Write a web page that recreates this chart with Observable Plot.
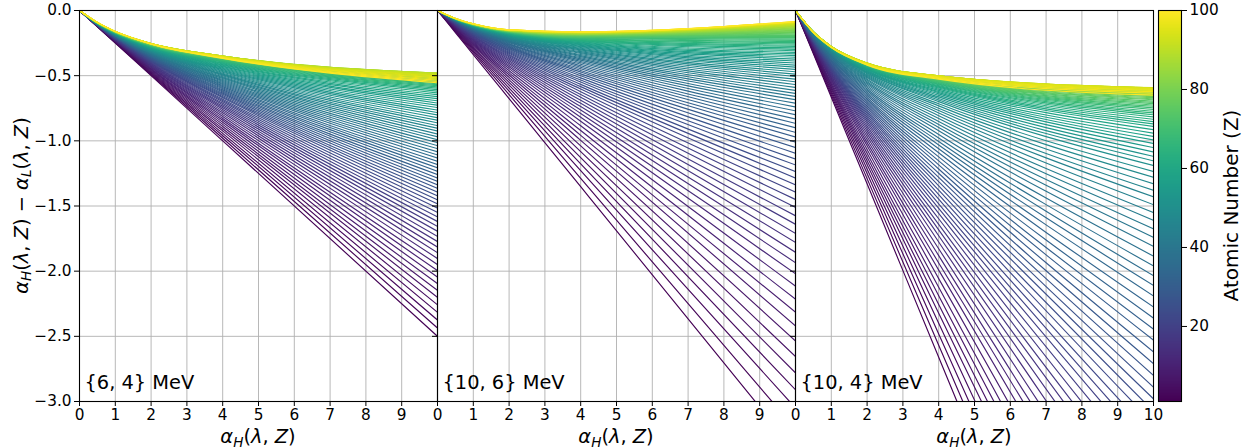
<!DOCTYPE html>
<html><head><meta charset="utf-8">
<script src="https://cdn.jsdelivr.net/npm/d3@7"></script>
<script src="https://cdn.jsdelivr.net/npm/@observablehq/plot@0.6"></script>
<style>
body{margin:0;background:#fff;}
#chart{position:relative;width:1251px;height:448px;font-family:"DejaVu Sans",sans-serif;}
</style></head><body><div id="chart"></div>
<script>
// ---- categories ----
const atomicNumbers = [1,2,3,4,5,6,7,8,9,10,11,12,13,14,15,16,17,18,19,20,21,22,23,24,25,26,27,28,29,30,31,32,33,34,35,36,37,38,39,40,41,42,43,44,45,46,47,48,49,50,51,52,53,54,55,56,57,58,59,60,61,62,63,64,65,66,67,68,69,70,71,72,73,74,75,76,77,78,79,80,81,82,83,84,85,86,87,88,89,90,91,92,93,94,95,96,97,98,99,100];
// alpha_H positions at which each curve was read
const knotsX = [0, 0.5, 1, 2, 4, 10];
const panelLabels = ["{6, 4} MeV", "{10, 6} MeV", "{10, 4} MeV"];
const xTicks = [0,1,2,3,4,5,6,7,8,9,10];
const yTicks = [0,-0.5,-1,-1.5,-2,-2.5,-3];
const cbTicks = [20,40,60,80,100];

// ---- panel 1: {6,4} MeV, alpha_H - alpha_L at alpha_H = 0.5, 1, 2, 4, 10 for Z = 1..100 ----
const p1At05 = [-0.125,-0.124,-0.124,-0.123,-0.122,-0.122,-0.121,-0.120,-0.120,-0.119,
-0.119,-0.118,-0.117,-0.117,-0.116,-0.116,-0.115,-0.115,-0.114,-0.114,
-0.113,-0.113,-0.113,-0.112,-0.112,-0.111,-0.111,-0.110,-0.110,-0.110,
-0.109,-0.109,-0.108,-0.108,-0.108,-0.107,-0.107,-0.106,-0.106,-0.106,
-0.105,-0.105,-0.105,-0.104,-0.104,-0.104,-0.103,-0.103,-0.103,-0.102,
-0.102,-0.102,-0.101,-0.101,-0.101,-0.100,-0.100,-0.100,-0.099,-0.099,
-0.099,-0.098,-0.098,-0.098,-0.098,-0.097,-0.097,-0.097,-0.097,-0.096,
-0.096,-0.096,-0.096,-0.096,-0.095,-0.095,-0.095,-0.095,-0.095,-0.094,
-0.094,-0.094,-0.094,-0.094,-0.093,-0.093,-0.093,-0.093,-0.093,-0.093,
-0.093,-0.092,-0.092,-0.092,-0.092,-0.092,-0.092,-0.092,-0.092,-0.092];
const p1At1 = [-0.250,-0.248,-0.246,-0.243,-0.241,-0.239,-0.237,-0.235,-0.233,-0.231,
-0.230,-0.228,-0.226,-0.225,-0.223,-0.222,-0.220,-0.219,-0.217,-0.216,
-0.214,-0.213,-0.212,-0.210,-0.209,-0.208,-0.207,-0.206,-0.205,-0.204,
-0.202,-0.201,-0.200,-0.199,-0.198,-0.197,-0.196,-0.195,-0.194,-0.193,
-0.192,-0.191,-0.190,-0.189,-0.188,-0.187,-0.186,-0.185,-0.184,-0.183,
-0.182,-0.182,-0.181,-0.180,-0.179,-0.178,-0.177,-0.177,-0.176,-0.175,
-0.174,-0.174,-0.173,-0.172,-0.172,-0.171,-0.171,-0.170,-0.170,-0.169,
-0.169,-0.168,-0.168,-0.167,-0.167,-0.166,-0.166,-0.166,-0.165,-0.165,
-0.164,-0.164,-0.164,-0.163,-0.163,-0.163,-0.162,-0.162,-0.162,-0.162,
-0.161,-0.161,-0.161,-0.161,-0.161,-0.161,-0.161,-0.161,-0.161,-0.161];
const p1At2 = [-0.500,-0.493,-0.486,-0.480,-0.473,-0.467,-0.461,-0.455,-0.449,-0.444,
-0.438,-0.433,-0.428,-0.423,-0.418,-0.414,-0.409,-0.405,-0.400,-0.396,
-0.392,-0.388,-0.385,-0.381,-0.377,-0.374,-0.371,-0.367,-0.364,-0.361,
-0.358,-0.355,-0.352,-0.349,-0.346,-0.343,-0.340,-0.337,-0.334,-0.331,
-0.328,-0.326,-0.323,-0.320,-0.317,-0.315,-0.312,-0.310,-0.307,-0.305,
-0.302,-0.300,-0.298,-0.295,-0.293,-0.291,-0.289,-0.286,-0.284,-0.282,
-0.281,-0.279,-0.277,-0.276,-0.274,-0.273,-0.272,-0.271,-0.269,-0.268,
-0.267,-0.266,-0.265,-0.264,-0.264,-0.263,-0.262,-0.261,-0.260,-0.259,
-0.259,-0.258,-0.257,-0.256,-0.256,-0.255,-0.255,-0.254,-0.254,-0.254,
-0.254,-0.254,-0.254,-0.254,-0.255,-0.255,-0.256,-0.256,-0.257,-0.258];
const p1At4 = [-1.000,-0.980,-0.961,-0.943,-0.924,-0.907,-0.890,-0.874,-0.858,-0.842,
-0.828,-0.813,-0.799,-0.785,-0.772,-0.759,-0.747,-0.735,-0.723,-0.712,
-0.701,-0.691,-0.681,-0.670,-0.661,-0.652,-0.643,-0.634,-0.625,-0.617,
-0.609,-0.600,-0.592,-0.584,-0.576,-0.568,-0.560,-0.552,-0.545,-0.537,
-0.530,-0.522,-0.515,-0.508,-0.501,-0.494,-0.488,-0.481,-0.474,-0.468,
-0.461,-0.455,-0.449,-0.443,-0.437,-0.431,-0.426,-0.420,-0.415,-0.410,
-0.405,-0.401,-0.397,-0.393,-0.390,-0.387,-0.384,-0.381,-0.379,-0.377,
-0.374,-0.372,-0.370,-0.368,-0.366,-0.364,-0.362,-0.361,-0.359,-0.358,
-0.356,-0.355,-0.353,-0.352,-0.351,-0.350,-0.349,-0.349,-0.349,-0.349,
-0.350,-0.351,-0.352,-0.353,-0.355,-0.357,-0.359,-0.362,-0.365,-0.367];
const p1At10 = [-2.500,-2.436,-2.375,-2.316,-2.258,-2.202,-2.148,-2.096,-2.045,-1.996,
-1.949,-1.903,-1.858,-1.815,-1.773,-1.733,-1.694,-1.656,-1.619,-1.584,
-1.549,-1.516,-1.484,-1.452,-1.422,-1.393,-1.365,-1.337,-1.311,-1.285,
-1.259,-1.233,-1.207,-1.182,-1.157,-1.132,-1.108,-1.084,-1.060,-1.037,
-1.014,-0.991,-0.969,-0.947,-0.925,-0.904,-0.883,-0.862,-0.842,-0.822,
-0.802,-0.783,-0.764,-0.745,-0.727,-0.710,-0.693,-0.677,-0.661,-0.646,
-0.632,-0.619,-0.607,-0.596,-0.586,-0.577,-0.569,-0.562,-0.555,-0.549,
-0.543,-0.537,-0.531,-0.526,-0.521,-0.516,-0.511,-0.507,-0.503,-0.499,
-0.495,-0.492,-0.489,-0.486,-0.484,-0.482,-0.481,-0.480,-0.481,-0.483,
-0.487,-0.491,-0.496,-0.502,-0.509,-0.517,-0.526,-0.535,-0.545,-0.555];

// ---- panel 2: {10,6} MeV ----
const p2At05 = [-0.169,-0.163,-0.156,-0.151,-0.146,-0.142,-0.138,-0.133,-0.130,-0.126,
-0.123,-0.119,-0.116,-0.114,-0.111,-0.109,-0.107,-0.105,-0.102,-0.100,
-0.099,-0.097,-0.095,-0.094,-0.092,-0.091,-0.089,-0.088,-0.087,-0.085,
-0.084,-0.083,-0.082,-0.081,-0.080,-0.080,-0.079,-0.078,-0.077,-0.076,
-0.076,-0.075,-0.074,-0.074,-0.073,-0.073,-0.072,-0.072,-0.071,-0.071,
-0.070,-0.070,-0.069,-0.069,-0.068,-0.068,-0.068,-0.067,-0.067,-0.067,
-0.066,-0.066,-0.066,-0.066,-0.065,-0.065,-0.065,-0.065,-0.064,-0.064,
-0.064,-0.064,-0.064,-0.064,-0.064,-0.063,-0.063,-0.063,-0.063,-0.063,
-0.063,-0.063,-0.063,-0.063,-0.062,-0.062,-0.062,-0.062,-0.062,-0.062,
-0.062,-0.062,-0.062,-0.062,-0.062,-0.062,-0.062,-0.062,-0.062,-0.062];
const p2At1 = [-0.338,-0.324,-0.311,-0.300,-0.290,-0.281,-0.271,-0.263,-0.255,-0.247,
-0.240,-0.232,-0.226,-0.220,-0.215,-0.210,-0.205,-0.200,-0.196,-0.191,
-0.187,-0.184,-0.180,-0.176,-0.173,-0.170,-0.167,-0.164,-0.161,-0.158,
-0.156,-0.154,-0.151,-0.149,-0.147,-0.145,-0.143,-0.141,-0.139,-0.138,
-0.136,-0.135,-0.133,-0.132,-0.131,-0.129,-0.128,-0.127,-0.126,-0.125,
-0.124,-0.123,-0.122,-0.121,-0.120,-0.119,-0.118,-0.117,-0.117,-0.116,
-0.115,-0.114,-0.114,-0.113,-0.113,-0.112,-0.112,-0.111,-0.111,-0.110,
-0.110,-0.109,-0.109,-0.109,-0.108,-0.108,-0.108,-0.107,-0.107,-0.107,
-0.107,-0.106,-0.106,-0.106,-0.106,-0.105,-0.105,-0.105,-0.105,-0.105,
-0.104,-0.104,-0.104,-0.104,-0.104,-0.103,-0.103,-0.103,-0.103,-0.104];
const p2At2 = [-0.676,-0.646,-0.619,-0.595,-0.573,-0.552,-0.532,-0.513,-0.495,-0.479,
-0.462,-0.446,-0.432,-0.419,-0.407,-0.396,-0.385,-0.374,-0.364,-0.354,
-0.345,-0.337,-0.328,-0.320,-0.312,-0.305,-0.298,-0.292,-0.285,-0.279,
-0.274,-0.268,-0.263,-0.258,-0.253,-0.248,-0.244,-0.239,-0.235,-0.232,
-0.228,-0.225,-0.221,-0.218,-0.215,-0.212,-0.209,-0.206,-0.203,-0.201,
-0.198,-0.196,-0.193,-0.191,-0.189,-0.187,-0.185,-0.183,-0.181,-0.180,
-0.178,-0.176,-0.175,-0.173,-0.172,-0.171,-0.169,-0.168,-0.167,-0.166,
-0.165,-0.164,-0.163,-0.162,-0.161,-0.161,-0.160,-0.159,-0.158,-0.158,
-0.157,-0.156,-0.156,-0.155,-0.155,-0.154,-0.154,-0.153,-0.152,-0.152,
-0.151,-0.151,-0.150,-0.150,-0.150,-0.149,-0.149,-0.149,-0.149,-0.149];
const p2At4 = [-1.352,-1.288,-1.229,-1.177,-1.129,-1.083,-1.039,-0.996,-0.958,-0.921,
-0.884,-0.850,-0.819,-0.790,-0.763,-0.737,-0.712,-0.689,-0.665,-0.644,
-0.623,-0.603,-0.584,-0.567,-0.549,-0.533,-0.517,-0.501,-0.486,-0.472,
-0.460,-0.447,-0.435,-0.424,-0.412,-0.401,-0.391,-0.381,-0.371,-0.363,
-0.354,-0.346,-0.338,-0.330,-0.323,-0.316,-0.309,-0.302,-0.296,-0.290,
-0.284,-0.278,-0.273,-0.268,-0.262,-0.257,-0.253,-0.248,-0.244,-0.240,
-0.236,-0.233,-0.229,-0.225,-0.222,-0.219,-0.216,-0.213,-0.210,-0.207,
-0.205,-0.202,-0.200,-0.198,-0.196,-0.194,-0.192,-0.190,-0.188,-0.187,
-0.185,-0.183,-0.182,-0.181,-0.179,-0.178,-0.177,-0.175,-0.174,-0.173,
-0.171,-0.170,-0.169,-0.168,-0.167,-0.166,-0.165,-0.165,-0.164,-0.164];
const p2At10 = [-3.380,-3.210,-3.050,-2.910,-2.780,-2.655,-2.535,-2.420,-2.315,-2.215,
-2.115,-2.020,-1.935,-1.855,-1.780,-1.710,-1.640,-1.575,-1.510,-1.450,
-1.393,-1.338,-1.285,-1.235,-1.185,-1.140,-1.095,-1.052,-1.010,-0.970,
-0.935,-0.900,-0.866,-0.833,-0.800,-0.770,-0.740,-0.712,-0.685,-0.660,
-0.636,-0.613,-0.590,-0.568,-0.547,-0.527,-0.507,-0.488,-0.470,-0.452,
-0.435,-0.419,-0.403,-0.388,-0.373,-0.359,-0.346,-0.333,-0.321,-0.309,
-0.298,-0.287,-0.276,-0.266,-0.256,-0.247,-0.238,-0.229,-0.221,-0.213,
-0.206,-0.199,-0.192,-0.186,-0.180,-0.174,-0.168,-0.162,-0.157,-0.152,
-0.147,-0.142,-0.138,-0.134,-0.130,-0.126,-0.122,-0.118,-0.114,-0.110,
-0.106,-0.102,-0.099,-0.096,-0.093,-0.090,-0.088,-0.086,-0.085,-0.085];

// ---- panel 3: {10,4} MeV ----
const p3At05 = [-0.333,-0.325,-0.317,-0.310,-0.304,-0.299,-0.293,-0.288,-0.283,-0.277,
-0.273,-0.268,-0.264,-0.260,-0.256,-0.253,-0.250,-0.247,-0.244,-0.241,
-0.238,-0.236,-0.233,-0.230,-0.228,-0.225,-0.223,-0.220,-0.218,-0.215,
-0.213,-0.210,-0.208,-0.205,-0.203,-0.200,-0.198,-0.196,-0.193,-0.191,
-0.189,-0.187,-0.185,-0.184,-0.182,-0.180,-0.179,-0.177,-0.176,-0.175,
-0.174,-0.173,-0.172,-0.171,-0.171,-0.170,-0.169,-0.169,-0.168,-0.168,
-0.167,-0.167,-0.167,-0.166,-0.166,-0.166,-0.166,-0.166,-0.166,-0.166,
-0.166,-0.165,-0.165,-0.165,-0.165,-0.165,-0.165,-0.165,-0.165,-0.165,
-0.165,-0.165,-0.165,-0.165,-0.165,-0.165,-0.165,-0.165,-0.165,-0.166,
-0.166,-0.166,-0.166,-0.166,-0.167,-0.167,-0.168,-0.169,-0.169,-0.170];
const p3At1 = [-0.665,-0.648,-0.631,-0.615,-0.601,-0.588,-0.576,-0.564,-0.552,-0.539,
-0.529,-0.519,-0.509,-0.500,-0.491,-0.484,-0.476,-0.469,-0.461,-0.454,
-0.448,-0.442,-0.436,-0.430,-0.424,-0.418,-0.413,-0.407,-0.401,-0.395,
-0.389,-0.383,-0.378,-0.372,-0.366,-0.361,-0.356,-0.351,-0.345,-0.340,
-0.336,-0.331,-0.327,-0.323,-0.319,-0.316,-0.312,-0.309,-0.306,-0.303,
-0.301,-0.299,-0.297,-0.295,-0.293,-0.292,-0.290,-0.289,-0.287,-0.286,
-0.285,-0.284,-0.283,-0.283,-0.282,-0.281,-0.281,-0.280,-0.280,-0.279,
-0.279,-0.279,-0.279,-0.278,-0.278,-0.278,-0.278,-0.277,-0.277,-0.277,
-0.277,-0.277,-0.277,-0.277,-0.276,-0.276,-0.276,-0.276,-0.276,-0.277,
-0.277,-0.277,-0.277,-0.278,-0.279,-0.280,-0.281,-0.282,-0.284,-0.285];
const p3At2 = [-1.330,-1.290,-1.251,-1.216,-1.182,-1.152,-1.124,-1.096,-1.066,-1.038,
-1.014,-0.990,-0.967,-0.945,-0.924,-0.905,-0.887,-0.869,-0.852,-0.835,
-0.820,-0.805,-0.790,-0.776,-0.762,-0.748,-0.734,-0.720,-0.706,-0.692,
-0.679,-0.666,-0.652,-0.639,-0.626,-0.614,-0.602,-0.590,-0.578,-0.567,
-0.556,-0.546,-0.536,-0.527,-0.517,-0.510,-0.502,-0.494,-0.487,-0.480,
-0.475,-0.469,-0.464,-0.460,-0.455,-0.451,-0.448,-0.444,-0.440,-0.437,
-0.434,-0.432,-0.430,-0.427,-0.425,-0.423,-0.422,-0.420,-0.419,-0.417,
-0.416,-0.415,-0.414,-0.413,-0.412,-0.411,-0.410,-0.410,-0.409,-0.408,
-0.407,-0.407,-0.406,-0.406,-0.405,-0.405,-0.404,-0.404,-0.404,-0.404,
-0.404,-0.405,-0.405,-0.406,-0.407,-0.409,-0.411,-0.413,-0.416,-0.419];
const p3At4 = [-2.660,-2.569,-2.482,-2.400,-2.323,-2.255,-2.188,-2.124,-2.057,-1.992,
-1.937,-1.881,-1.828,-1.776,-1.728,-1.683,-1.641,-1.598,-1.557,-1.518,
-1.483,-1.448,-1.412,-1.379,-1.345,-1.313,-1.281,-1.249,-1.216,-1.184,
-1.154,-1.123,-1.092,-1.061,-1.032,-1.005,-0.978,-0.951,-0.923,-0.898,
-0.874,-0.851,-0.829,-0.807,-0.786,-0.768,-0.750,-0.732,-0.716,-0.699,
-0.687,-0.675,-0.663,-0.651,-0.640,-0.630,-0.622,-0.613,-0.603,-0.595,
-0.588,-0.582,-0.576,-0.570,-0.565,-0.560,-0.556,-0.552,-0.548,-0.544,
-0.541,-0.538,-0.534,-0.531,-0.528,-0.526,-0.523,-0.521,-0.518,-0.516,
-0.514,-0.512,-0.510,-0.509,-0.507,-0.505,-0.504,-0.502,-0.502,-0.501,
-0.501,-0.501,-0.502,-0.503,-0.505,-0.508,-0.512,-0.516,-0.521,-0.527];
const p3At10 = [-6.650,-6.400,-6.160,-5.935,-5.720,-5.530,-5.345,-5.165,-4.980,-4.800,
-4.645,-4.490,-4.340,-4.195,-4.060,-3.935,-3.815,-3.695,-3.580,-3.470,
-3.370,-3.270,-3.170,-3.075,-2.980,-2.890,-2.800,-2.710,-2.620,-2.530,
-2.445,-2.360,-2.275,-2.190,-2.110,-2.035,-1.960,-1.885,-1.810,-1.740,
-1.675,-1.610,-1.550,-1.490,-1.430,-1.380,-1.330,-1.280,-1.235,-1.190,
-1.154,-1.119,-1.085,-1.052,-1.020,-0.993,-0.967,-0.941,-0.915,-0.890,
-0.871,-0.853,-0.835,-0.817,-0.800,-0.786,-0.773,-0.760,-0.747,-0.735,
-0.725,-0.715,-0.705,-0.695,-0.685,-0.677,-0.669,-0.661,-0.653,-0.645,
-0.639,-0.633,-0.627,-0.621,-0.615,-0.610,-0.605,-0.600,-0.597,-0.595,
-0.593,-0.592,-0.593,-0.595,-0.599,-0.605,-0.613,-0.623,-0.635,-0.650];

const panels = [
  {label: panelLabels[0], cols: [p1At05, p1At1, p1At2, p1At4, p1At10]},
  {label: panelLabels[1], cols: [p2At05, p2At1, p2At2, p2At4, p2At10]},
  {label: panelLabels[2], cols: [p3At05, p3At1, p3At2, p3At4, p3At10]}
];

const chart = document.getElementById("chart");
const FONT = "DejaVu Sans";
const panelLeft = [79, 437, 795];
const innerW = 358;
const fmtY = d => d === 0 ? "0.0" : "\u2212" + Math.abs(d).toFixed(1);

panels.forEach((p, idx) => {
  const rows = [];
  atomicNumbers.forEach((z, i) => {
    const ys = [0, ...p.cols.map(c => c[i])];
    knotsX.forEach((x, j) => rows.push({Z: z, ax: x, dy: ys[j]}));
  });
  const ml = idx === 0 ? 79 : 10;
  const mr = idx === 2 ? 24 : 10;
  const svg = Plot.plot({
    width: ml + innerW + mr, height: 448,
    marginLeft: ml, marginRight: mr, marginTop: 10, marginBottom: 47,
    x: {domain: [0, 10], label: null},
    y: {domain: [-3, 0], label: null},
    color: {type: "linear", scheme: "viridis", domain: [1, 100]},
    style: {fontFamily: FONT, fontSize: "15.3px", background: "transparent", color: "black", overflow: "visible"},
    marks: [
      Plot.gridX(xTicks, {stroke: "#b0b0b0", strokeOpacity: 1, strokeWidth: 0.9}),
      Plot.gridY(yTicks, {stroke: "#b0b0b0", strokeOpacity: 1, strokeWidth: 0.9}),
      Plot.line(rows, {x: "ax", y: "dy", z: "Z", stroke: "Z", curve: "monotone-x", strokeWidth: 1.15, clip: true}),
      Plot.frame({stroke: "black", strokeWidth: 1.1}),
      Plot.axisX(idx < 2 ? xTicks.filter(d => d < 10) : xTicks, {tickSize: 5, tickPadding: 3, tickFormat: d => String(d), label: null}),
      Plot.axisY(yTicks, {tickSize: 5, tickPadding: 3, tickFormat: idx === 0 ? fmtY : () => "", label: null}),
      Plot.text([p.label], {frameAnchor: "bottom-left", dx: 5, dy: -12.5, lineAnchor: "bottom", textAnchor: "start", fontSize: 19.4, fill: "black"})
    ]
  });
  svg.style.position = "absolute";
  svg.style.left = (panelLeft[idx] - ml) + "px";
  svg.style.top = "0px";
  chart.appendChild(svg);
});

// colorbar
const cb = Plot.plot({
  width: 101, height: 448, marginLeft: 8, marginRight: 70, marginTop: 10, marginBottom: 47,
  x: {domain: [0, 1], axis: null},
  y: {domain: [1, 100], label: null},
  color: {type: "linear", scheme: "viridis", domain: [1, 100]},
  style: {fontFamily: FONT, fontSize: "15.3px", background: "transparent", color: "black", overflow: "visible"},
  marks: [
    Plot.raster({x1: 0, x2: 1, y1: 1, y2: 100, width: 1, height: 391, fill: (x, y) => y, imageRendering: "auto"}),
    Plot.frame({stroke: "black", strokeWidth: 1.1}),
    Plot.axisY(cbTicks, {anchor: "right", tickSize: 5, tickPadding: 3, label: null})
  ]
});
cb.style.position = "absolute";
cb.style.left = "1150px";
cb.style.top = "0px";
chart.appendChild(cb);

// overlay for math labels
const ov = d3.select(chart).append("svg")
  .attr("width", 1251).attr("height", 448)
  .style("position", "absolute").style("left", "0px").style("top", "0px")
  .style("overflow", "visible").style("pointer-events", "none")
  .attr("font-family", FONT);

const alphaPart = sub => [["\u03b1", "i"], [sub, "s"], ["(", ""], ["\u03bb", "i"], [", ", ""], ["Z", "i"], [")", ""]];
function mathText(sel, parts, size) {
  let shifted = false;
  parts.forEach(([t, kind]) => {
    const ts = sel.append("tspan").text(t);
    if (kind === "i") ts.attr("font-style", "italic");
    if (kind === "s") {
      ts.attr("font-style", "italic").attr("font-size", size * 0.7).attr("dy", size * 0.2);
      shifted = true;
    } else if (shifted) {
      ts.attr("dy", -size * 0.2);
      shifted = false;
    }
  });
}
const LS = 19.4;
panelLeft.forEach(l => {
  const t = ov.append("text").attr("x", l + innerW / 2).attr("y", 443)
    .attr("text-anchor", "middle").attr("font-size", LS).attr("fill", "black");
  mathText(t, alphaPart("H"), LS);
});
const yl = ov.append("text").attr("transform", "translate(27.5,205.5) rotate(-90)")
  .attr("text-anchor", "middle").attr("font-size", LS).attr("fill", "black");
mathText(yl, [...alphaPart("H"), [" \u2212 ", ""], ...alphaPart("L")], LS);

ov.append("text").attr("transform", "translate(1238,205.5) rotate(-90)")
  .attr("text-anchor", "middle").attr("font-size", 20).attr("fill", "black")
  .text("Atomic Number (Z)");
</script></body></html>
